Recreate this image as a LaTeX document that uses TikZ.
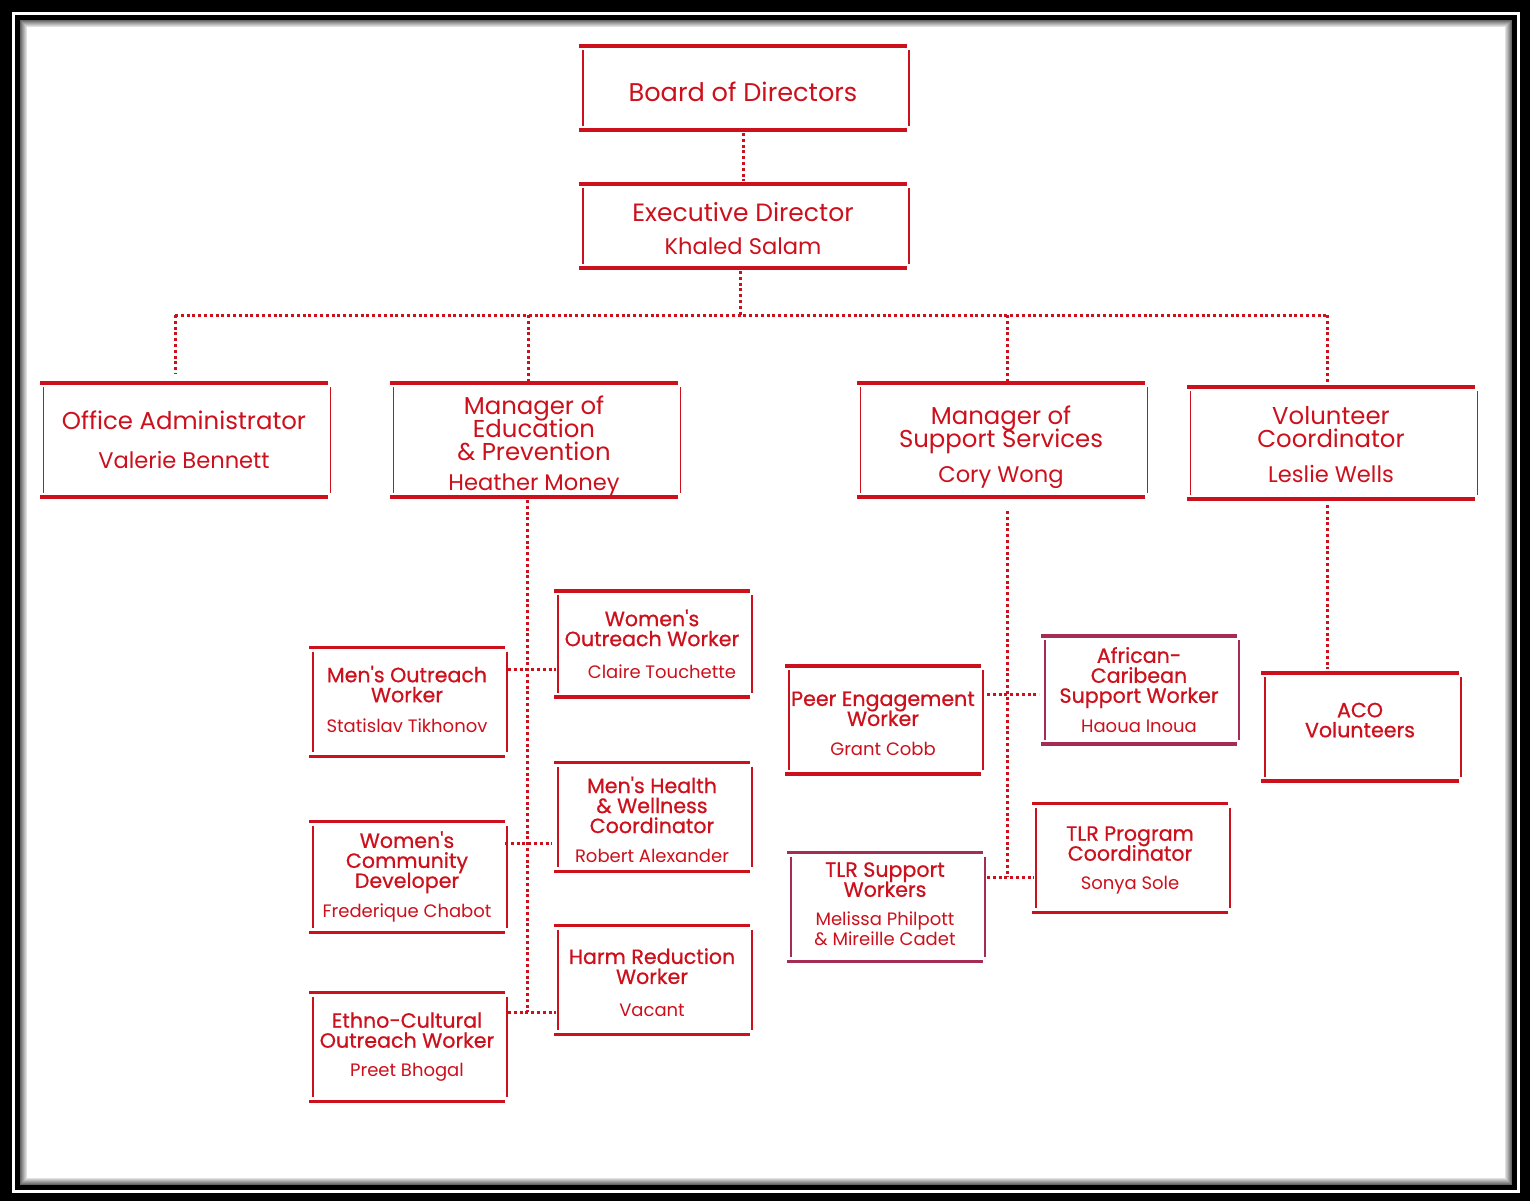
\documentclass[tikz,border=0pt]{standalone}
\usepackage{fontspec}
\setmainfont{Poppins}
\newfontfamily\headfont{Poppins}[FakeBold=0.7]
\usepackage{tikz}
\usetikzlibrary{calc}

\definecolor{chartred}{RGB}{204,16,28}
\definecolor{chartplum}{RGB}{165,45,85}

\newcommand\tightlines{\lineskiplimit=-20pt\relax}
\newcommand\bigtitle{\fontsize{12.2}{11.5}\selectfont\tightlines}
\newcommand\smalltitle{\headfont\fontsize{10.3}{10}\selectfont\tightlines}
\newcommand\bigname{\fontsize{11.3}{11.5}\selectfont}
\newcommand\smallname{\rmfamily\fontsize{9}{10}\selectfont}

\begin{document}
\begin{tikzpicture}[x=0.5pt,y=-0.5pt]
  \tikzset{
    post/.style={inner sep=0pt,align=center,text=chartred,minimum height=54pt},
    big/.style={post,minimum width=144pt,minimum height=56.5pt,font=\bigtitle},
    small/.style={post,minimum width=97.5pt,font=\smalltitle},
    rule/.style={chartred,line width=1.7pt},
    side/.style={chartred,line width=0.7pt},
    link/.style={chartred,line width=1.5pt,dash pattern=on 1.5pt off 1.4pt}
  }

  % frame
  \fill[black] (0,0) rectangle (1530,1201);
  \fill[white] (12,12) rectangle (1520,1193);
  \fill[black] (15,15) rectangle (1517,1190);
  \fill[white] (20,20) rectangle (1512,1185);
  \foreach \i [evaluate=\i as \g using 60-8*\i] in {0,...,6}
    \draw[black!\g,line width=0.5pt] (20.5+\i,20.5+\i) rectangle (1511.5-\i,1184.5-\i);

  % top
  \node[big,minimum width=163.5pt,minimum height=41.5pt] (bod) at (743,88) {\fontsize{12.8}{11.5}\selectfont\rule{0pt}{14pt}Board of Directors};
  \node[big,minimum width=163.5pt,minimum height=41.5pt] (ed) at (743,226) {\fontsize{12.5}{11.5}\selectfont\rule{0pt}{12pt}Executive Director\\[5pt]\bigname Khaled Salam};

  % managers
  \node[big] (oa) at (184,440) {Office Administrator\\[8pt]\bigname Valerie Bennett};
  \node[big] (edu) at (534,440) {\rule{0pt}{15pt}Manager of\\Education\\\& Prevention\\[3.5pt]\bigname Heather Money};
  \node[big] (sup) at (1001,440) {\rule{0pt}{17pt}Manager of\\Support Services\\[6pt]\bigname Cory Wong};
  \node[big,minimum height=55.5pt] (vol) at (1331,443) {\rule{0pt}{11pt}Volunteer\\Coordinator\\[6pt]\bigname Leslie Wells};

  % education and prevention
  \node[small] (mow) at (407,702) {Men's Outreach\\Worker\\[5pt]\smallname Statislav Tikhonov\rule[-3pt]{0pt}{0pt}};
  \node[small,minimum height=52.5pt] (wow) at (652,644) {Women's\\Outreach Worker\\[6pt]\smallname\hspace*{10pt}Claire Touchette};
  \node[small] (mhw) at (652,817) {\rule{0pt}{10.6pt}Men's Health\\\& Wellness\\Coordinator\\[4.5pt]\smallname Robert Alexander};
  \node[small,minimum height=55pt] (wcd) at (407,877) {Women's\\Community\\Developer\\[5pt]\smallname Frederique Chabot};
  \node[small] (hrw) at (652,980) {\rule{0pt}{10.5pt}Harm Reduction\\Worker\\[6.5pt]\smallname Vacant};
  \node[small] (ecw) at (407,1047) {Ethno-Cultural\\Outreach Worker\\[4.5pt]\smallname Preet Bhogal};

  % support services
  \node[small,minimum height=53.5pt] (pew) at (883,720) {\rule{0pt}{11pt}Peer Engagement\\Worker\\[5pt]\smallname Grant Cobb};
  \node[small,minimum height=53.5pt] (acs) at (1139,690) {African-\\Caribean\\Support Worker\\[5pt]\smallname Haoua Inoua};
  \node[small] (tsw) at (885,907) {TLR Support\\Workers\\[4.5pt]\smallname Melissa Philpott\\\smallname\& Mireille Cadet\rule[-3pt]{0pt}{0pt}};
  \node[small] (tpc) at (1130,858) {\rule{0pt}{9.5pt}TLR Program\\Coordinator\\[4.5pt]\smallname Sonya Sole};

  % volunteers
  \node[small,minimum width=98.5pt,minimum height=53.5pt] (aco) at (1360,727) {ACO\\Volunteers\\[-3pt]\mbox{}};

  % box rules
  \foreach \n/\c in {bod/chartred,ed/chartred,oa/chartred,edu/chartred,sup/chartred,vol/chartred,
                     mow/chartred,wow/chartred,mhw/chartred,wcd/chartred,hrw/chartred,ecw/chartred,
                     pew/chartred,acs/chartplum,tsw/chartplum,tpc/chartred,aco/chartred}{
    \draw[rule,draw=\c] (\n.north west) -- (\n.north east);
    \draw[rule,draw=\c] (\n.south west) -- (\n.south east);
    \draw[side,draw=\c] ([shift={(2pt,-2pt)}]\n.north west) -- ([shift={(2pt,2pt)}]\n.south west);
    \draw[side,draw=\c] ([shift={(1pt,-2pt)}]\n.north east) -- ([shift={(1pt,2pt)}]\n.south east);
  }

  % bus
  \coordinate (bus) at (740,315);
  \coordinate (b1) at (175,315);
  \coordinate (b2) at (528,315);
  \coordinate (b3) at (1007,315);
  \coordinate (b4) at (1327,315);

  \path[link,shorten >=1.5pt,shorten <=1.5pt] (bod) edge (ed);
  \draw[link] ([yshift=-1.5pt]ed.south -| bus) -- (bus);
  \draw[link] (b1) -- (b4);
  \draw[link] (b1) -- ([yshift=4.5pt]b1 |- oa.north);
  \draw[link] (b2) -- ([yshift=1pt]b2 |- edu.north);
  \draw[link] (b3) -- ([yshift=1pt]b3 |- sup.north);
  \draw[link] (b4) -- ([yshift=1.5pt]b4 |- vol.north);

  % education spine
  \coordinate (e1) at (527,669);
  \coordinate (e2) at (527,843);
  \coordinate (e3) at (527,1012);
  \draw[link] ([yshift=-1.5pt]edu.south -| e1) -- (e3);
  \draw[link] ([xshift=1.5pt]e1 -| mow.east) -- ([xshift=1pt]e1 -| wow.west);
  \draw[link] (e2 -| wcd.east) -- ([xshift=-1pt]e2 -| mhw.west);
  \draw[link] ([xshift=1.5pt]e3 -| ecw.east) -- ([xshift=1pt]e3 -| hrw.west);

  % support spine
  \coordinate (s1) at (1007,694);
  \coordinate (s2) at (1007,877);
  \draw[link] ([yshift=-7pt]sup.south -| s1) -- (s2);
  \draw[link] ([xshift=3pt]s1 -| pew.east) -- ([xshift=-1pt]s1 -| acs.west);
  \draw[link] ([xshift=2pt]s2 -| tsw.east) -- ([xshift=1pt]s2 -| tpc.west);

  % volunteers
  \draw[link] ([yshift=-3pt]vol.south -| b4) -- ([yshift=2pt]b4 |- aco.north);
\end{tikzpicture}
\end{document}
